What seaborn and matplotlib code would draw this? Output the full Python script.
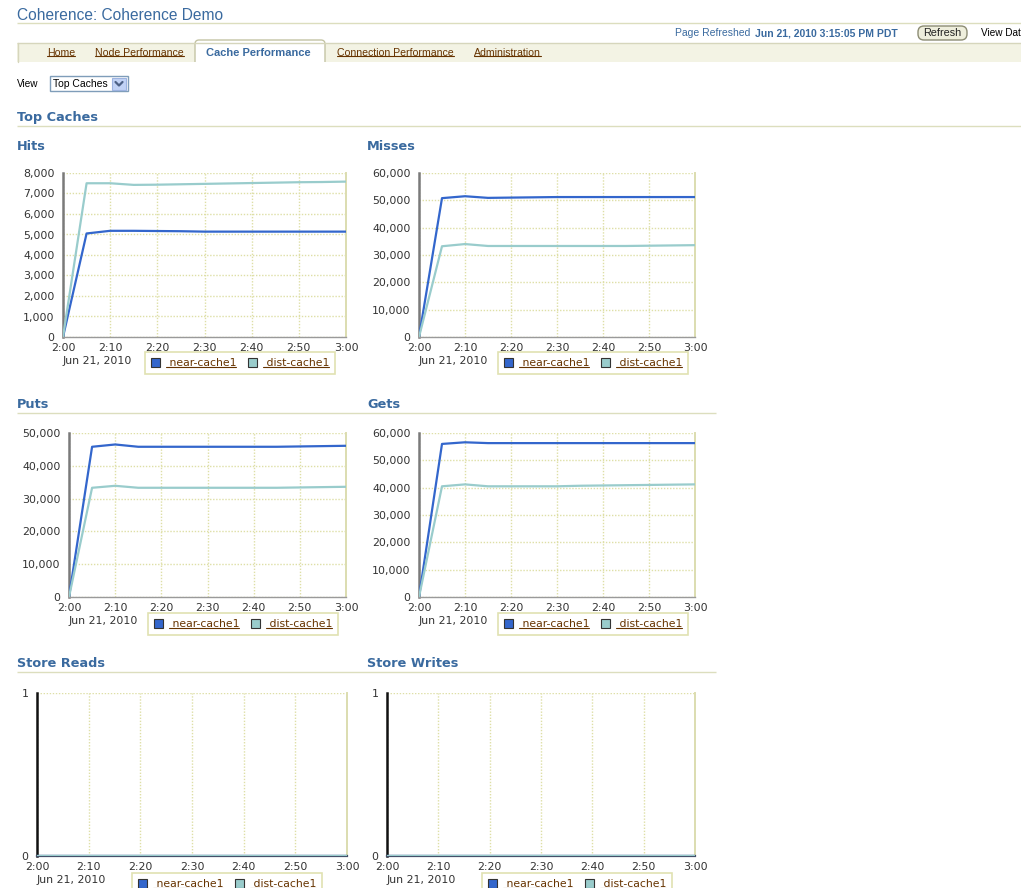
import matplotlib
matplotlib.use("Agg")
import matplotlib.pyplot as plt
import seaborn as sns
import pandas as pd
from matplotlib.patches import Rectangle, FancyBboxPatch, Patch
from matplotlib.lines import Line2D
from matplotlib.ticker import FuncFormatter

# ---------------- data ----------------
minutes = [0, 5, 10, 15, 20, 25, 30, 35, 40, 45, 50, 55, 60]
time_tick_minutes = [0, 10, 20, 30, 40, 50, 60]
time_labels = ["2:00", "2:10", "2:20", "2:30", "2:40", "2:50", "3:00"]
date_label = "Jun 21, 2010"
series_names = ["near-cache1", "dist-cache1"]

hits_near = [0, 5050, 5180, 5180, 5170, 5160, 5140, 5140, 5140, 5140, 5140, 5140, 5140]
hits_dist = [0, 7500, 7500, 7420, 7430, 7450, 7470, 7490, 7510, 7530, 7550, 7560, 7580]
misses_near = [0, 50800, 51500, 50900, 51000, 51100, 51200, 51200, 51200, 51200, 51200, 51200, 51200]
misses_dist = [0, 33200, 34000, 33300, 33300, 33300, 33300, 33300, 33300, 33300, 33400, 33500, 33600]
puts_near = [0, 45800, 46500, 45800, 45800, 45800, 45800, 45800, 45800, 45800, 45900, 46000, 46100]
puts_dist = [0, 33300, 33900, 33300, 33300, 33300, 33300, 33300, 33300, 33300, 33400, 33500, 33600]
gets_near = [0, 56000, 56600, 56300, 56300, 56300, 56300, 56300, 56300, 56300, 56300, 56300, 56300]
gets_dist = [0, 40500, 41200, 40500, 40500, 40500, 40500, 40700, 40800, 40900, 41000, 41100, 41200]
store_reads_near = [0, 0, 0, 0, 0, 0, 0, 0, 0, 0, 0, 0, 0]
store_reads_dist = [0, 0, 0, 0, 0, 0, 0, 0, 0, 0, 0, 0, 0]
store_writes_near = [0, 0, 0, 0, 0, 0, 0, 0, 0, 0, 0, 0, 0]
store_writes_dist = [0, 0, 0, 0, 0, 0, 0, 0, 0, 0, 0, 0, 0]

hits_ticks = [0, 1000, 2000, 3000, 4000, 5000, 6000, 7000, 8000]
misses_ticks = [0, 10000, 20000, 30000, 40000, 50000, 60000]
puts_ticks = [0, 10000, 20000, 30000, 40000, 50000]
gets_ticks = [0, 10000, 20000, 30000, 40000, 50000, 60000]
store_ticks = [0, 1]

chart_titles = ["Hits", "Misses", "Puts", "Gets", "Store Reads", "Store Writes"]

# ---------------- style ----------------
W, H = 1021, 888
NEAR = "#3366CC"
DIST = "#99CCCC"
GRID = "#DEDFA6"
BLUE_TXT = "#3A6A9F"
LINK = "#663300"
RULE = "#DCDEBE"
TICK_TXT = "#333333"
FONT = "DejaVu Sans"
UI = "Liberation Sans"

sns.set_style("white")
plt.rcParams["font.family"] = [FONT]

fig = plt.figure(figsize=(W / 100, H / 100), dpi=100)
fig.patch.set_facecolor("white")

bg = fig.add_axes([0, 0, 1, 1])
bg.set_xlim(0, W)
bg.set_ylim(H, 0)
bg.axis("off")
bg.set_zorder(-5)

underline_texts = []


def txt(x, y, s, size=7.6, color="black", weight="normal", family=UI, under=False, ha="left"):
    t = bg.text(x, y, s, fontsize=size, color=color, fontweight=weight,
                family=family, va="center", ha=ha)
    if under:
        underline_texts.append(t)
    return t


def hline(y, x0, x1, color=RULE, lw=1.0):
    bg.plot([x0, x1], [y, y], color=color, lw=lw, solid_capstyle="butt")


# ---------------- page header ----------------
txt(17, 15, "Coherence: Coherence Demo", size=11.2, color=BLUE_TXT)
hline(23.5, 17, W)
txt(675, 33, "Page Refreshed", size=7.5, color=BLUE_TXT)
txt(755, 33, "Jun 21, 2010 3:15:05 PM PDT", size=7.5, color=BLUE_TXT, weight="bold")
bg.add_patch(FancyBboxPatch((918, 26), 49, 14, boxstyle="round,pad=0,rounding_size=6",
                            fc="#EEEEDC", ec="#8C8C74", lw=1.0))
txt(942.5, 33, "Refresh", size=7.8, color="#222222", ha="center")
txt(981, 33, "View Dat", size=7.2, color="black")

# tab bar
bg.add_patch(Rectangle((17, 43), W - 17, 19, fc="#F3F3E4", ec="none"))
hline(43, 17, W, color="#D6D6BC")
bg.plot([17.5, 17.5], [43, 62], color="#D6D6BC", lw=1)
bg.add_patch(FancyBboxPatch((195, 40), 130, 26, boxstyle="round,pad=0,rounding_size=4",
                            fc="white", ec="#C4C4A4", lw=1.0))
bg.add_patch(Rectangle((194, 62.5), 133, 6, fc="white", ec="none"))
txt(47, 52.5, "Home", color=LINK, under=True)
txt(95, 52.5, "Node Performance", color=LINK, under=True)
txt(206, 53, "Cache Performance", size=8.0, color=BLUE_TXT, weight="bold")
txt(337, 52.5, "Connection Performance", color=LINK, under=True)
txt(474, 52.5, "Administration", color=LINK, under=True)

# view selector
txt(17, 84, "View", size=7.2, color="black")
bg.add_patch(Rectangle((49.5, 76.5), 78, 15, fc="white", ec="#7F9DB9", lw=1))
txt(53, 84, "Top Caches", size=7.5, color="black")
bg.add_patch(Rectangle((112, 78), 14, 12, fc="#C1D2F5", ec="#9DB3E0", lw=0.8))
bg.plot([115.5, 119, 122.5], [82, 85.5, 82], color="#4D6185", lw=1.6)

# section headers
txt(17, 118, "Top Caches", size=9.3, color=BLUE_TXT, weight="bold", family=FONT)
hline(126.5, 17, W)
title_pos = [(17, 146), (367, 146), (17, 404), (367, 404), (17, 663), (367, 663)]
for (tx, ty), name in zip(title_pos, chart_titles):
    txt(tx, ty, name, size=9.3, color=BLUE_TXT, weight="bold", family=FONT)
hline(412.5, 17, 716)
hline(671.5, 17, 716)

# ---------------- charts ----------------
charts = [
    (hits_near, hits_dist, hits_ticks),
    (misses_near, misses_dist, misses_ticks),
    (puts_near, puts_dist, puts_ticks),
    (gets_near, gets_dist, gets_ticks),
    (store_reads_near, store_reads_dist, store_ticks),
    (store_writes_near, store_writes_dist, store_ticks),
]
ax_boxes = [(63, 173, 346, 337), (419, 173, 695, 337),
            (69, 433, 346, 597), (419, 433, 695, 597),
            (37, 693, 347, 856), (387, 693, 695, 856)]
legend_pos = [(145, 352), (498, 352), (148, 613), (498, 613), (132, 873), (482, 873)]

comma = FuncFormatter(lambda v, p: f"{int(round(v)):,}")

for i, ((near, dist, yt), (x0, y0, x1, y1), (lx, ly)) in enumerate(zip(charts, ax_boxes, legend_pos)):
    ax = fig.add_axes([x0 / W, 1 - y1 / H, (x1 - x0) / W, (y1 - y0) / H])
    ax.set_facecolor("white")
    df = pd.DataFrame({
        "minute": minutes * 2,
        "value": near + dist,
        "cache": [series_names[0]] * len(minutes) + [series_names[1]] * len(minutes),
    })
    store = i >= 4
    sns.lineplot(data=df, x="minute", y="value", hue="cache", hue_order=series_names,
                 palette={series_names[0]: NEAR, series_names[1]: DIST},
                 linewidth=1.6, legend=False, ax=ax, zorder=3)
    ax.set_xlim(0, 60)
    ax.set_ylim(yt[0], yt[-1])
    ax.set_xticks(time_tick_minutes)
    ax.set_xticklabels(time_labels)
    ax.set_yticks(yt)
    ax.yaxis.set_major_formatter(comma)
    ax.set_xlabel("")
    ax.set_ylabel("")
    ax.grid(True, color=GRID, linestyle=(0, (1, 1.2)), linewidth=1.0)
    ax.tick_params(axis="both", length=0, labelsize=7.9, labelcolor=TICK_TXT)
    ax.tick_params(axis="x", pad=4)
    ax.tick_params(axis="y", pad=6)
    ax.spines["top"].set_visible(False)
    ax.spines["right"].set_color("#DCDDB0")
    ax.spines["right"].set_linewidth(1.4)
    if store:
        ax.spines["left"].set_color("#111111")
        ax.spines["bottom"].set_color("#44506A")
        ax.spines["bottom"].set_linewidth(1.6)
    else:
        ax.spines["left"].set_color("#7A7A7A")
        ax.spines["bottom"].set_color("#9A9A9A")
        ax.spines["bottom"].set_linewidth(1.0)
    ax.spines["left"].set_linewidth(1.8)
    ax.set_axisbelow(True)

    txt(x0, y1 + 23.5, date_label, size=7.9, color=TICK_TXT, family=FONT)

    handles = [Patch(facecolor=NEAR, edgecolor="#333333", linewidth=0.8),
               Patch(facecolor=DIST, edgecolor="#333333", linewidth=0.8)]
    leg = ax.legend(handles, [" " + n for n in series_names], loc="upper left",
                    bbox_to_anchor=(lx / W, 1 - ly / H), bbox_transform=fig.transFigure,
                    ncol=2, frameon=True, fancybox=False, fontsize=7.8,
                    borderpad=0.55, borderaxespad=0, handlelength=0.85, handleheight=0.85,
                    handletextpad=0.5, columnspacing=1.1)
    leg.get_frame().set_edgecolor("#D9DA9E")
    leg.get_frame().set_linewidth(1.2)
    leg.get_frame().set_facecolor("white")
    for t in leg.get_texts():
        t.set_color(LINK)
        t.set_family(FONT)
        underline_texts.append(t)
    leg.set_clip_on(False)

# underline links
fig.canvas.draw()
r = fig.canvas.get_renderer()
for t in underline_texts:
    bb = t.get_window_extent(r)
    yy = bb.y0 + 1.0
    fig.add_artist(Line2D([bb.x0 / W, bb.x1 / W], [yy / H, yy / H],
                          transform=fig.transFigure, color=LINK, lw=0.8))

fig.savefig("out.png", dpi=100, facecolor="white")
